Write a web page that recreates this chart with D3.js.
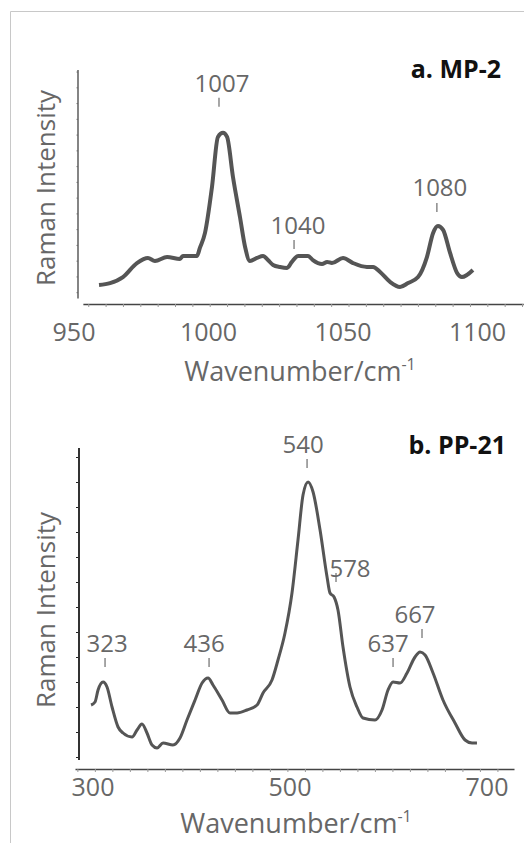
<!DOCTYPE html>
<html>
<head>
<meta charset="utf-8">
<script src="https://cdn.jsdelivr.net/npm/d3@7/dist/d3.min.js"></script>
<style>
body { margin: 0; background: #fff; }
svg text { font-family: "Open Sans", "Noto Sans", sans-serif; }
</style>
</head>
<body>
<div id="my_dataviz"></div>
<script>
// ---- panel a: MP-2 ----
const mpWave = [959.3, 963.4, 968.2, 973.4, 977.5, 980.1, 984.6, 989.4, 990.5, 995.7,
	996.8, 998.7, 1001.3, 1003.5, 1005.4, 1006.9, 1009.1, 1011.7, 1013.6, 1015.4,
	1018.0, 1020.3, 1022.1, 1024.0, 1026.6, 1029.2, 1031.0, 1033.3, 1037.0, 1038.8,
	1042.2, 1044.1, 1045.9, 1050.0, 1053.7, 1058.9, 1061.2, 1063.8, 1067.5, 1071.2,
	1074.2, 1077.9, 1081.2, 1083.5, 1085.3, 1087.2, 1089.8, 1092.4, 1094.2, 1098.3];
const mpInt = [0.46, 0.58, 0.96, 1.85, 2.17, 1.98, 2.23, 2.11, 2.30, 2.30,
	2.81, 3.76, 6.68, 9.85, 10.11, 9.85, 7.31, 4.77, 2.87, 1.98,
	2.17, 2.30, 2.04, 1.73, 1.60, 1.54, 1.92, 2.30, 2.30, 2.04,
	1.79, 1.92, 1.85, 2.17, 1.85, 1.60, 1.60, 1.28, 0.65, 0.33,
	0.58, 0.96, 2.23, 3.76, 4.20, 3.95, 2.49, 1.22, 0.96, 1.41];
const mpTickLabels = [950, 1000, 1050, 1100];
const mpPeakLabels = ["1007", "1040", "1080"];
const mpPeakWave = [1003.9, 1031.8, 1084.9];
const mpPeakLevel = [11.76, 2.74, 5.09];

// ---- panel b: PP-21 ----
const ppWave = [298.0, 302.0, 305.1, 310.2, 314.2, 319.3, 325.4, 330.5, 339.6, 344.7,
	349.7, 354.8, 359.9, 365.0, 371.1, 381.2, 388.3, 395.4, 403.6, 410.7,
	416.8, 421.8, 431.0, 439.1, 446.2, 456.3, 466.5, 472.6, 481.7, 487.8,
	494.9, 502.0, 508.1, 513.2, 518.3, 523.4, 530.5, 537.6, 540.6, 544.7,
	548.7, 553.8, 560.9, 568.0, 574.1, 586.3, 593.4, 599.5, 604.6, 611.7,
	618.8, 626.9, 632.0, 637.1, 645.2, 655.3, 667.5, 677.7, 684.8, 689.8];
const ppInt = [2.08, 2.20, 2.68, 3.00, 2.80, 2.00, 1.20, 0.96, 0.80, 1.08,
	1.32, 0.96, 0.48, 0.36, 0.56, 0.48, 0.76, 1.48, 2.28, 2.96,
	3.16, 2.88, 2.28, 1.76, 1.76, 1.88, 2.08, 2.56, 3.08, 3.88,
	4.96, 6.56, 8.68, 10.48, 11.00, 10.60, 9.08, 7.20, 6.56, 6.40,
	5.88, 4.40, 2.80, 2.00, 1.56, 1.48, 1.88, 2.68, 3.00, 2.96,
	3.36, 4.00, 4.20, 4.08, 3.36, 2.28, 1.36, 0.68, 0.56, 0.56];
const ppTickLabels = [300, 500, 700];
const ppPeakLabels = ["323", "436", "540", "578", "637", "667"];
const ppPeakWave = [312.2, 417.8, 517.3, 546.7, 604.6, 634.0];
const ppPeakLevel = [3.6, 3.6, 11.56, 7.0, 3.6, 4.76];

var textColor = "#676767",
	lineColor = "#555";

var svg = d3
	.select("#my_dataviz")
	.append("svg")
	.attr("width", 524)
	.attr("height", 843);

// light frame around the figure
svg.append("path")
	.attr("d", "M10.5,843 L10.5,11.5 L524,11.5")
	.attr("fill", "none")
	.attr("stroke", "#c8c8c8")
	.attr("stroke-width", 1);

function drawPanel(opt) {
	var x = d3.scaleLinear().domain(opt.xDomain).range(opt.xRange);
	var y = d3.scaleLinear().domain(opt.yDomain).range(opt.yRange);
	var g = svg.append("g");

	// x axis: plain line with small ticks below, labels placed by scale
	var xAxis = g.append("g")
		.attr("transform", "translate(0," + y(opt.yDomain[0]) + ")")
		.call(d3.axisBottom(x)
			.tickValues(d3.range(opt.minorStart, opt.xDomain[1], opt.minorStep))
			.tickSize(3)
			.tickSizeOuter(0)
			.tickFormat(""));
	xAxis.select(".domain").attr("stroke", "#444").attr("stroke-width", 1.5);
	xAxis.selectAll(".tick line").attr("stroke", "#999");

	g.selectAll(".xlab")
		.data(opt.tickLabels)
		.enter()
		.append("text")
		.attr("x", function (d) { return x(d); })
		.attr("y", y(opt.yDomain[0]) + opt.labelGap)
		.attr("text-anchor", "middle")
		.attr("font-size", 25)
		.attr("fill", textColor)
		.text(function (d) { return d; });

	// y axis
	var yAxis = g.append("g")
		.attr("transform", "translate(" + opt.yAxisX + ",0)")
		.call(d3.axisLeft(y)
			.tickValues(d3.range(0, opt.yTicks + 1))
			.tickSize(opt.yTickSize)
			.tickSizeOuter(0)
			.tickFormat(""));
	yAxis.select(".domain").remove();
	yAxis.selectAll(".tick line").attr("stroke", opt.yTickColor);
	yAxis.append("line")
		.attr("y1", y(opt.yLineEnds[0]))
		.attr("y2", y(opt.yLineEnds[1]))
		.attr("stroke", "#333")
		.attr("stroke-width", opt.yLineWidth);

	// axis titles
	g.append("text")
		.attr("transform", "translate(" + opt.yTitleX + "," + opt.yTitleY + ") rotate(-90)")
		.attr("text-anchor", "middle")
		.attr("font-size", 26)
		.attr("fill", textColor)
		.text("Raman Intensity");

	var xt = g.append("text")
		.attr("x", opt.xTitleX)
		.attr("y", opt.xTitleY)
		.attr("text-anchor", "middle")
		.attr("font-size", 27)
		.attr("fill", textColor);
	xt.append("tspan").text("Wavenumber/cm");
	xt.append("tspan").attr("font-size", 16).attr("dy", -11).text("-1");

	// spectrum
	var pts = opt.wave.map(function (w, i) { return [w, opt.inten[i]]; });
	g.append("path")
		.datum(pts)
		.attr("fill", "none")
		.attr("stroke", lineColor)
		.attr("stroke-width", opt.strokeW)
		.attr("stroke-linejoin", "round")
		.attr("d", d3.line()
			.curve(d3.curveMonotoneX)
			.x(function (d) { return x(d[0]); })
			.y(function (d) { return y(d[1]); }));

	// peak markers
	opt.peakLabels.forEach(function (lab, i) {
		var px = x(opt.peakWave[i]),
			py = y(opt.peakLevel[i]);
		g.append("line")
			.attr("x1", px).attr("x2", px)
			.attr("y1", py - 9).attr("y2", py)
			.attr("stroke", "#777")
			.attr("stroke-width", 1.3);
		g.append("text")
			.attr("x", px + opt.peakShift[i][0])
			.attr("y", py - 9 - opt.peakShift[i][1])
			.attr("text-anchor", "middle")
			.attr("font-size", 24)
			.attr("fill", textColor)
			.text(lab);
	});

	// panel title
	g.append("text")
		.attr("x", opt.titleX)
		.attr("y", opt.titleY)
		.attr("text-anchor", "end")
		.attr("font-size", 25)
		.attr("font-weight", "bold")
		.attr("fill", "#111")
		.text(opt.title);
}

drawPanel({
	title: "a. MP-2", titleX: 501, titleY: 78,
	wave: mpWave, inten: mpInt,
	xDomain: [953.3, 1117], xRange: [74 + 3.3 * 2.69, 74 + 167 * 2.69],
	yDomain: [-0.75, 14.1], yRange: [304, 70],
	minorStart: 955.3, minorStep: 6.45,
	tickLabels: mpTickLabels, labelGap: 37,
	yAxisX: 78, yTicks: 14, yTickSize: 2, yTickColor: "#bbb",
	yLineEnds: [-0.4, 14.1], yLineWidth: 1.2,
	yTitleX: 55, yTitleY: 188,
	xTitleX: 300, xTitleY: 381,
	strokeW: 4,
	peakLabels: mpPeakLabels, peakWave: mpPeakWave, peakLevel: mpPeakLevel,
	peakShift: [[3, 6], [4, 6], [3, 7]]
});

drawPanel({
	title: "b. PP-21", titleX: 506, titleY: 454,
	wave: ppWave, inten: ppInt,
	xDomain: [281.7, 727.4], xRange: [75, 514],
	yDomain: [-0.48, 12.36], yRange: [769, 448],
	minorStart: 284.1, minorStep: 17.77,
	tickLabels: ppTickLabels, labelGap: 27,
	yAxisX: 79, yTicks: 12, yTickSize: 3, yTickColor: "#222",
	yLineEnds: [-0.12, 12.36], yLineWidth: 2,
	yTitleX: 55, yTitleY: 610,
	xTitleX: 296, xTitleY: 833,
	strokeW: 3,
	peakLabels: ppPeakLabels, peakWave: ppPeakWave, peakLevel: ppPeakLevel,
	peakShift: [[2, 6], [-5, 6], [-4, 6], [14, -4], [-5, 6], [-7, 6]]
});
</script>
</body>
</html>
